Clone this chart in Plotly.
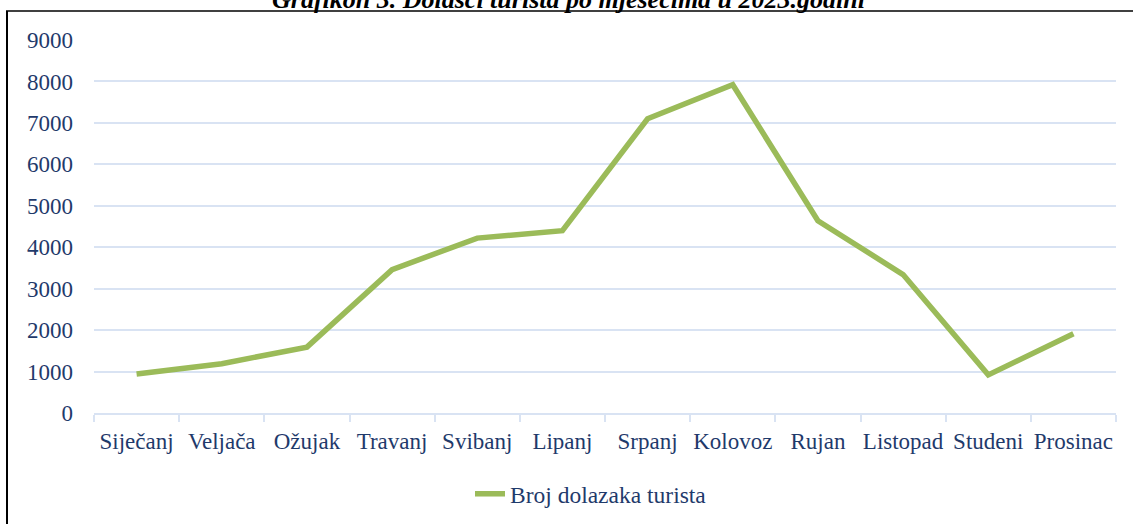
import plotly.graph_objects as go

months = ["Siječanj", "Veljača", "Ožujak", "Travanj", "Svibanj", "Lipanj",
          "Srpanj", "Kolovoz", "Rujan", "Listopad", "Studeni", "Prosinac"]
arrivals = [940, 1190, 1590, 3460, 4220, 4400, 7100, 7920, 4640, 3340, 920, 1910]
series_name = "Broj dolazaka turista"
title_text = "Grafikon 3. Dolasci turista po mjesecima u 2023.godini"
y_ticks = [0, 1000, 2000, 3000, 4000, 5000, 6000, 7000, 8000, 9000]

W, H = 1133, 524
ML, MT = 94, 40
MR = W - 1116
MB = H - 413
pw, ph = W - ML - MR, H - MT - MB

def px_x(p):  # page pixel -> paper x
    return (p - ML) / pw

def px_y(p):  # page pixel -> paper y
    return (H - MB - p) / ph

text_color = "#1F3A6B"
grid_color = "#D9E3F3"
font_fam = "Liberation Serif, Times New Roman, serif"

fig = go.Figure()
fig.add_trace(go.Scatter(
    x=months, y=arrivals, mode="lines", name=series_name,
    line=dict(color="#9BBB59", width=5.5),
    showlegend=True,
))

fig.update_layout(
    width=W, height=H,
    margin=dict(l=ML, r=MR, t=MT, b=MB, autoexpand=False),
    paper_bgcolor="white", plot_bgcolor="white",
    font=dict(family=font_fam, size=23, color=text_color),
    showlegend=True,
    legend=dict(orientation="h", x=px_x(591), xanchor="center", y=px_y(494), yanchor="middle",
                font=dict(family=font_fam, size=23.5, color=text_color),
                bgcolor="rgba(0,0,0,0)"),
    xaxis=dict(
        type="category", showgrid=False, showline=True, linecolor=grid_color, linewidth=2,
        ticks="outside", tickson="boundaries", ticklen=7, tickcolor=grid_color, tickwidth=2,
        tickangle=0, ticklabelstandoff=6,
        tickfont=dict(family=font_fam, size=23, color=text_color),
        range=[-0.5, 11.5], fixedrange=True,
    ),
    yaxis=dict(
        range=[0, 9000], tickvals=y_ticks, showgrid=True, gridcolor=grid_color, gridwidth=2,
        zeroline=False, showline=False, ticks="", ticklabelstandoff=20,
        tickfont=dict(family=font_fam, size=23, color=text_color), fixedrange=True,
    ),
)

# Partially cropped title at the top
fig.add_annotation(
    text="<b><i>" + title_text + "</i></b>", xref="paper", yref="paper",
    x=px_x(569), y=px_y(-0.5), xanchor="center", yanchor="middle", showarrow=False,
    font=dict(family=font_fam, size=26, color="black"),
)

# Frame lines (left and top)
fig.add_shape(type="line", xref="paper", yref="paper",
              x0=px_x(7), x1=px_x(7), y0=px_y(11), y1=px_y(600),
              line=dict(color="black", width=2))
fig.add_shape(type="line", xref="paper", yref="paper",
              x0=px_x(6), x1=px_x(1200), y0=px_y(11), y1=px_y(11),
              line=dict(color="black", width=1.5))

# Remove the default 8px page margin so the figure fills the window exactly
fig.write_html(
    "out.html",
    config={"displayModeBar": False},
    post_script="document.body.style.margin='0';document.body.style.overflow='hidden';",
)
